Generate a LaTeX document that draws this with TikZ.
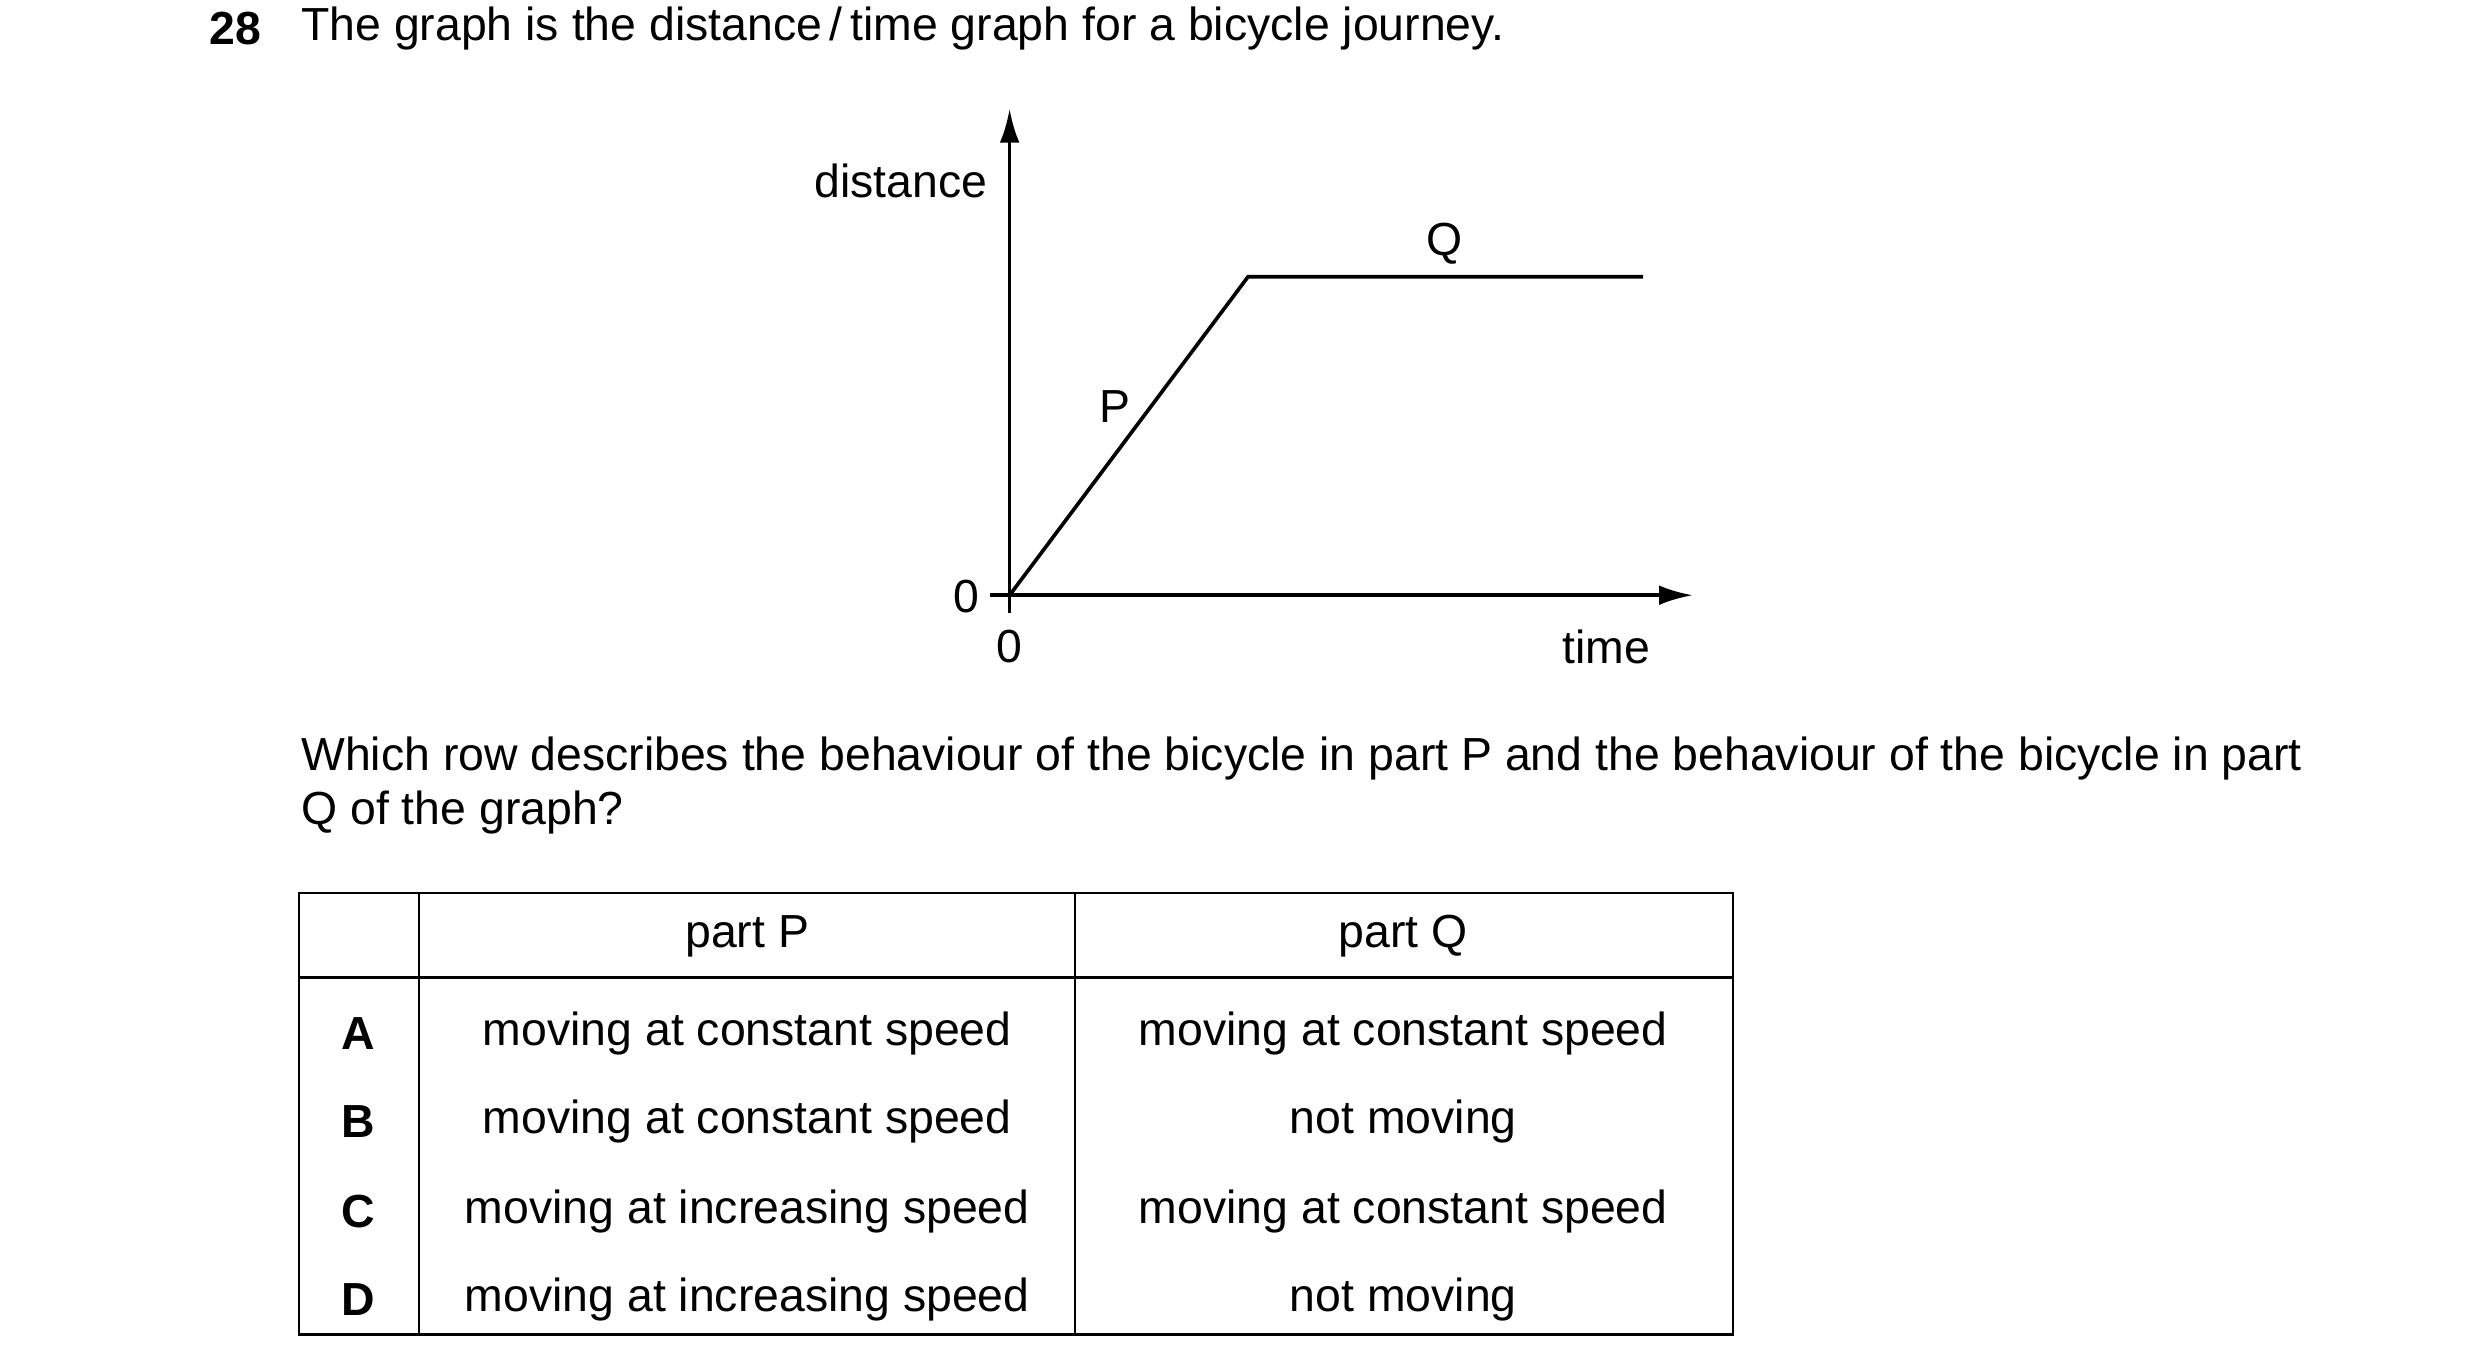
\documentclass[tikz,border=0pt]{standalone}
\usepackage{fontspec}
\setmainfont{Liberation Sans}
\usetikzlibrary{arrows.meta}
\begin{document}
\begin{tikzpicture}[x=0.02cm,y=-0.02cm,
  txt/.style={inner sep=0pt,font=\fontsize{16.5}{19}\selectfont},
  bf/.style={inner sep=0pt,font=\fontsize{16.5}{19}\selectfont\bfseries},
  ln/.style={line width=1.3pt},
  tb/.style={line width=0.9pt}]
\useasboundingbox (0,0) rectangle (1550,850);
\node[bf] (num) at (147,18) {28};
\node[txt,anchor=west] (title) at (188,18) {The graph is the distance\,/\,time graph for a bicycle journey.};
% axes
\coordinate (o) at (631,372);
\coordinate (ytop) at (631,68);
\coordinate (xend) at (1058,372);
\draw[ln,-{Latex[length=12pt,width=7pt]}] (o) -- (ytop);
\draw[ln,-{Latex[length=12pt,width=7pt]}] (o) -- (xend);
\coordinate (tl) at (619,372); \coordinate (tb) at (631,383);
\draw[ln] (o) -- (tl); \draw[ln] (o) -- (tb);
\node[txt] (zy) at (604,373) {0};
\node[txt] (zx) at (631,404) {0};
\node[txt] (dist) at (563,113) {distance};
\node[txt] (time) at (1004,404) {time};
\coordinate (k) at (780,173); \coordinate (e) at (1027,173);
\draw[ln] (o) -- (k) -- (e);
\node[txt] (P) at (697,254) {P};
\node[txt] (Q) at (903,152) {Q};
\node[txt,anchor=west] (q1) at (188,474) {Which row describes the behaviour of the bicycle in part P and the behaviour of the bicycle in part};
\node[txt,anchor=west] (q2) at (188,508) {Q of the graph?};
% table
\draw[tb] (187,558) rectangle (1083,834);
\draw[tb] (187,611) -- (1083,611);
\draw[tb] (262,558) -- (262,834);
\draw[tb] (672,558) -- (672,834);
\node[txt] (hp) at (467,585) {part P};
\node[txt] (hq) at (877,585) {part Q};
\foreach \l/\y/\a/\b in {A/646/moving at constant speed/moving at constant speed,
  B/701/moving at constant speed/not moving,
  C/757/moving at increasing speed/moving at constant speed,
  D/812/moving at increasing speed/not moving}{
  \node[bf] (l\l) at (224,\y) {\l};
  \node[txt] (p\l) at (467,\y) {\a};
  \node[txt] (q\l) at (877,\y) {\b};
}
\end{tikzpicture}
\end{document}
